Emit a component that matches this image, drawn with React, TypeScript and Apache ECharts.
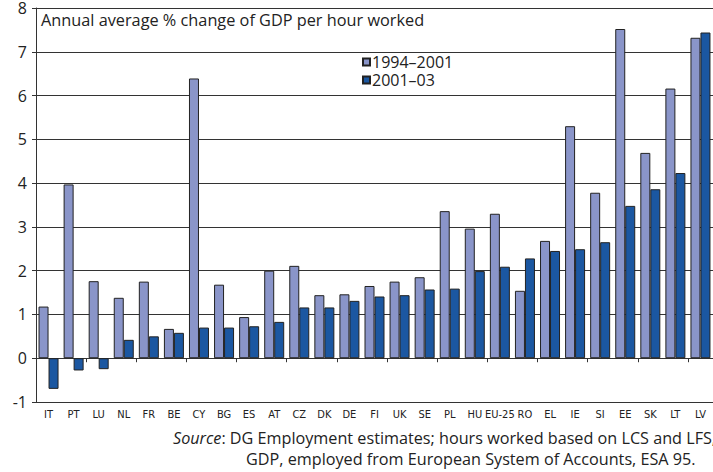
import React, { useEffect, useRef } from "react";
import * as echarts from "echarts";

const categories = ["IT", "PT", "LU", "NL", "FR", "BE", "CY", "BG", "ES", "AT", "CZ", "DK", "DE", "FI", "UK", "SE", "PL", "HU", "EU-25", "RO", "EL", "IE", "SI", "EE", "SK", "LT", "LV"];
const series1994_2001 = [1.18, 3.97, 1.76, 1.38, 1.75, 0.67, 6.39, 1.68, 0.94, 2.0, 2.11, 1.44, 1.46, 1.65, 1.75, 1.85, 3.36, 2.96, 3.3, 1.54, 2.68, 5.3, 3.78, 7.52, 4.69, 6.16, 7.32];
const series2001_03 = [-0.7, -0.28, -0.25, 0.42, 0.5, 0.58, 0.7, 0.7, 0.73, 0.83, 1.16, 1.16, 1.31, 1.41, 1.44, 1.57, 1.59, 1.99, 2.09, 2.28, 2.45, 2.49, 2.65, 3.48, 3.86, 4.23, 7.44];
const seriesNames = ["1994–2001", "2001–03"];
const titleText = "Annual average % change of GDP per hour worked";
const sourceLine1 = "DG Employment estimates; hours worked based on LCS and LFS,";
const sourceLine2 = "GDP, employed from European System of Accounts, ESA 95.";

const FONT = "'Open Sans', 'Noto Sans', sans-serif";
const NARROW = "'Liberation Sans Narrow', 'DejaVu Sans Condensed', 'Liberation Sans', sans-serif";

export default function App() {
  const ref = useRef<HTMLDivElement>(null);
  useEffect(() => {
    document.body.style.margin = "0";
    if (!ref.current) return;
    const chart = echarts.init(ref.current, null, { renderer: "svg" });
    const barCommon = {
      type: "bar" as const,
      barWidth: 10,
      barGap: "0%",
      xAxisIndex: 0,
    };
    chart.setOption({
      animation: false,
      backgroundColor: "#ffffff",
      grid: { left: 36, right: -1, top: 4, bottom: 70, containLabel: false },
      legend: {
        orient: "vertical",
        left: 362,
        top: 54,
        padding: 0,
        itemWidth: 7,
        itemHeight: 7,
        itemGap: 2,
        icon: "rect",
        textStyle: { fontFamily: FONT, fontSize: 16, lineHeight: 15, color: "#222", padding: [0, 0, 0, -3] },
        data: seriesNames,
      },
      xAxis: [
        {
          type: "category",
          data: categories,
          axisLine: { onZero: true, lineStyle: { color: "#333", width: 1 } },
          axisTick: { show: true, length: 4, lineStyle: { color: "#333" } },
          axisLabel: { show: false },
        },
        {
          type: "category",
          data: categories,
          position: "bottom",
          axisLine: { show: false, onZero: false },
          axisTick: { show: false },
          axisLabel: {
            show: true,
            interval: 0,
            margin: 7,
            fontFamily: NARROW,
            fontSize: 11,
            color: "#222",
          },
        },
      ],
      yAxis: {
        type: "value",
        min: -1,
        max: 8,
        interval: 1,
        axisLine: { show: true, lineStyle: { color: "#333", width: 1 } },
        axisTick: { show: true, length: 4, lineStyle: { color: "#333" } },
        axisLabel: { fontFamily: FONT, fontSize: 16, color: "#222", margin: 9 },
        splitLine: { show: true, lineStyle: { color: "#333", width: 1 } },
      },
      series: [
        {
          ...barCommon,
          name: seriesNames[0],
          data: series1994_2001,
          itemStyle: { color: "#8a95c9", borderColor: "#222", borderWidth: 1 },
        },
        {
          ...barCommon,
          name: seriesNames[1],
          data: series2001_03,
          itemStyle: { color: "#1b57a1", borderColor: "#222", borderWidth: 1 },
        },
      ],
      graphic: [
        {
          type: "text",
          left: 41,
          top: 12,
          style: { text: titleText, fontFamily: FONT, fontSize: 16.3, fill: "#222" },
        },
        {
          type: "text",
          left: 173,
          top: 430,
          style: {
            text: "{i|Source}: " + sourceLine1,
            fontFamily: FONT,
            fontSize: 16.2,
            fill: "#222",
            rich: { i: { fontStyle: "italic", fontFamily: FONT, fontSize: 16.2, fill: "#222" } },
          },
        },
        {
          type: "text",
          left: 246,
          top: 451,
          style: { text: sourceLine2, fontFamily: FONT, fontSize: 16.2, fill: "#222" },
        },
      ],
    });
    return () => chart.dispose();
  }, []);
  return <div ref={ref} style={{ width: 713, height: 472 }} />;
}
